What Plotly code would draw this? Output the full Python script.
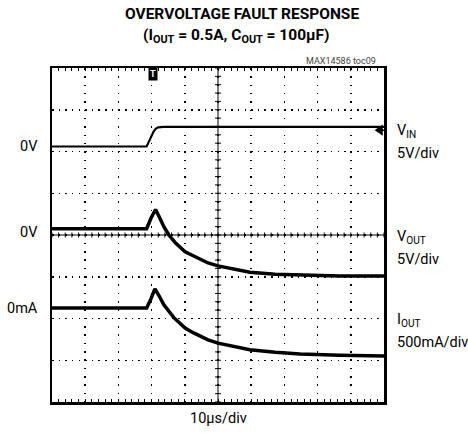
import plotly.graph_objects as go

# ---- data (x in µs, 10 µs/div; y in graticule divisions, 0 = bottom, 8 = top) ----
time_vin = [0, 28.5, 29.5, 30.6, 31.3, 32.0, 33.5, 60.0, 100.0]
vin_div = [6.12, 6.12, 6.29, 6.48, 6.55, 6.58, 6.59, 6.59, 6.59]

time_vout = [0, 28.5, 29.8, 31.2, 32.5, 33.7, 35.2, 37.3, 40.1, 42.5, 44.6, 47.0, 50.0, 55.1, 59.6, 67.2, 74.7, 86.7, 100.0]
vout_div = [4.15, 4.15, 4.40, 4.61, 4.40, 4.20, 4.00, 3.80, 3.60, 3.50, 3.42, 3.33, 3.26, 3.17, 3.11, 3.06, 3.04, 3.02, 3.015]

time_iout = [0, 28.5, 29.8, 31.0, 32.2, 33.7, 36.7, 40.1, 42.5, 44.6, 47.0, 50.0, 55.1, 59.6, 67.2, 74.7, 86.7, 100.0]
iout_div = [2.25, 2.25, 2.47, 2.71, 2.55, 2.33, 2.02, 1.77, 1.66, 1.57, 1.49, 1.41, 1.32, 1.25, 1.19, 1.15, 1.12, 1.10]

left_labels = ["0V", "0V", "0mA"]
right_names = ["V<sub>IN</sub>", "V<sub>OUT</sub>", "I<sub>OUT</sub>"]
right_scales = ["5V/div", "5V/div", "500mA/div"]

FONT = "Roboto, Liberation Sans, sans-serif"

fig = go.Figure()
for t, v, w in [(time_vin, vin_div, 2.2), (time_vout, vout_div, 3.5), (time_iout, iout_div, 3.5)]:
    fig.add_trace(go.Scatter(x=t, y=v, mode="lines", line=dict(color="black", width=w),
                             hoverinfo="skip", showlegend=False))

# graticule centre cross with tick marks
path = "M0,4 L100,4 M50,0 L50,8 "
for i in range(0, 51):
    x = i * 2
    path += f"M{x},{4-0.06} L{x},{4+0.06} "
for i in range(0, 41):
    y = i * 0.2
    path += f"M{50-0.9},{y} L{50+0.9},{y} "
fig.add_shape(type="path", path=path, xref="x", yref="y", line=dict(color="black", width=1), layer="above")

# trigger-level marker at right edge
lvl = 6.51
fig.add_shape(type="path", path=f"M97.6,{lvl} L99.4,{lvl+0.1} L99.4,{lvl-0.1} Z M97.6,{lvl} L100,{lvl}",
              xref="x", yref="y", line=dict(color="black", width=1.5), fillcolor="black")

W, H = 468, 434
L, R, T, B = 52, 384, 68, 402
def px(x):
    return (x - L) / (R - L)
def py(y):
    return (B - y) / (B - T)

def text(x, y, s, size, xanchor="center", yref="paper", color="black"):
    fig.add_annotation(x=x, y=y, xref="paper", yref=yref, text=s, showarrow=False,
                       xanchor=xanchor, yanchor="middle",
                       font=dict(family=FONT, size=size, color=color))

# trigger position marker "T" (with stem to the top border)
fig.add_shape(type="line", x0=30.3, x1=30.3, y0=py(68), y1=py(72), xref="x", yref="paper",
              line=dict(color="black", width=1.5))
fig.add_annotation(x=30.3, y=py(73.5), xref="x", yref="paper", text="<b>T</b>", showarrow=False,
                   xanchor="center", yanchor="middle",
                   font=dict(family=FONT, size=9, color="white"), bgcolor="black", borderpad=1)

# titles
text(px(242), py(14), "<b>OVERVOLTAGE FAULT RESPONSE</b>", 15.5)
text(px(236), py(36), "<b>(I<sub>OUT</sub> = 0.5A, C<sub>OUT</sub> = 100µF)</b>", 15.5)
text(px(378), py(61), "MAX14586 toc09", 9, xanchor="right", color="#444")

# left reference labels
for lab, yv in zip(left_labels, [vin_div[0], vout_div[0] - 0.08, iout_div[0]]):
    text(px(40), yv, lab, 14.5, xanchor="right", yref="y")

# right channel labels
for name, sc, yn in zip(right_names, right_scales, [131, 237, 320]):
    text(px(395), py(yn), name, 14.5, xanchor="left")
    text(px(395), py(yn + 22), sc, 14.5, xanchor="left")

text(px(218), py(418), "10µs/div", 14.5)

fig.update_xaxes(range=[0, 100], dtick=10, showgrid=True, gridcolor="black", gridwidth=1.5,
                 griddash="1.5px,6.825px", zeroline=False, showticklabels=False,
                 showline=True, linecolor="black", linewidth=2.5, mirror="ticks",
                 ticks="inside", ticklen=3, tickcolor="black", tickwidth=1,
                 minor=dict(dtick=2, ticks="inside", ticklen=3, tickcolor="black", tickwidth=1, showgrid=False))
fig.update_yaxes(range=[0, 8], dtick=1, showgrid=True, gridcolor="black", gridwidth=1.5,
                 griddash="1.5px,5.14px", zeroline=False, showticklabels=False,
                 showline=True, linecolor="black", linewidth=2.5, mirror=True, ticks="")

fig.update_layout(width=W, height=H, margin=dict(l=L, r=W - R, t=T, b=H - B),
                  plot_bgcolor="white", paper_bgcolor="white", showlegend=False)

fig.write_html("out.html", config={"displayModeBar": False, "staticPlot": True},
               post_script="document.body.style.margin='0';document.body.style.padding='0';")
